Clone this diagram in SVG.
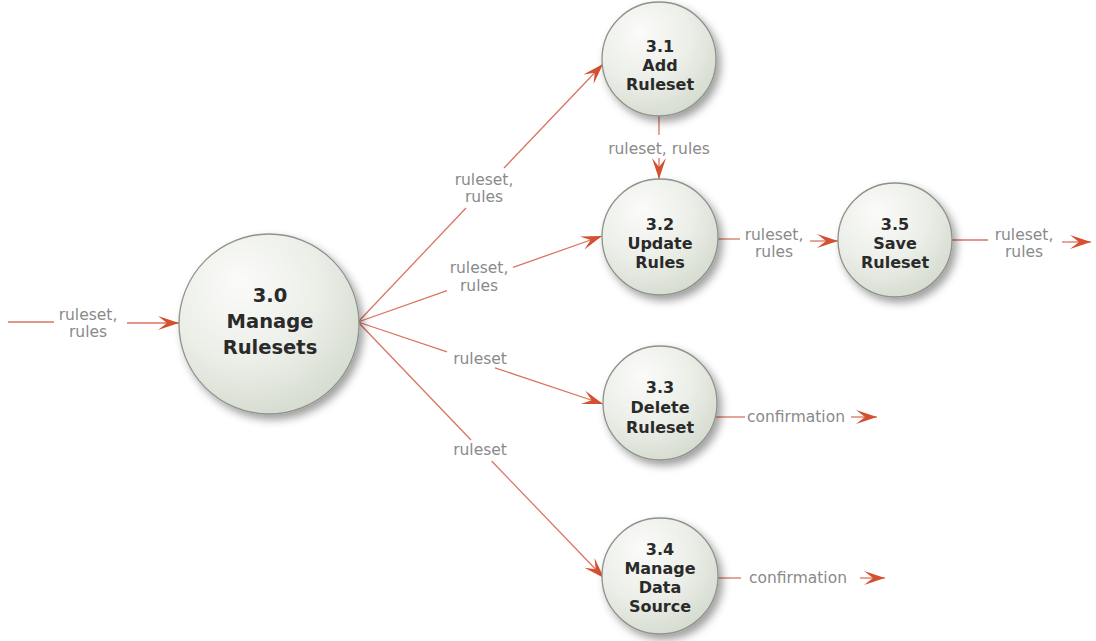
<svg xmlns="http://www.w3.org/2000/svg" width="1096" height="641" viewBox="0 0 1096 641">
  <defs>
    <radialGradient id="bubble" cx="38%" cy="32%" r="75%" fx="34%" fy="26%">
      <stop offset="0" stop-color="#fbfcfa"/>
      <stop offset="0.55" stop-color="#eceee8"/>
      <stop offset="1" stop-color="#d3dacd"/>
    </radialGradient>
    <filter id="shadow" x="-30%" y="-30%" width="170%" height="170%">
      <feDropShadow dx="4" dy="5" stdDeviation="4.5" flood-color="#000" flood-opacity="0.38"/>
    </filter>
    <marker id="arrow" viewBox="-23 -9 25 18" refX="0" refY="0" markerWidth="25" markerHeight="18" markerUnits="userSpaceOnUse" orient="auto">
      <path d="M0,0 L-21,-7 L-12,0 L-21,7 Z" fill="#d4502e"/>
    </marker>
    <style>
      .node circle { fill: url(#bubble); stroke: #8d928b; stroke-width: 1.3; filter: url(#shadow); }
      .node text { font-family: "DejaVu Sans", Verdana, sans-serif; font-weight: bold; fill: #2a2a2a; text-anchor: middle; }
      .big text { font-size: 19.5px; }
      .small text { font-size: 16px; }
      .flow { stroke: #d97562; stroke-width: 1.3; fill: none; }
      .head { marker-end: url(#arrow); }
      .lbl { font-family: "DejaVu Sans", Verdana, sans-serif; font-size: 15.5px; fill: #8a8a8a; text-anchor: middle; }
      .lbl.start { text-anchor: start; }
    </style>
  </defs>

  <rect width="1096" height="641" fill="#ffffff"/>

  <!-- data flows -->
  <g id="connectors">
    <!-- external input into 3.0 -->
    <path class="flow" d="M8,322 L54,322"/>
    <path class="flow head" d="M127,323 L179,323"/>
    <text class="lbl" x="88" y="320">ruleset,</text>
    <text class="lbl" x="88" y="337">rules</text>

    <!-- 3.0 -> 3.1 -->
    <path class="flow" d="M358,322 L466,208"/>
    <path class="flow head" d="M504,168 L603,64"/>
    <text class="lbl" x="484" y="185">ruleset,</text>
    <text class="lbl" x="484" y="202">rules</text>

    <!-- 3.0 -> 3.2 -->
    <path class="flow" d="M358,322 L447,290.6"/>
    <path class="flow head" d="M513,267.4 L602,236"/>
    <text class="lbl" x="479" y="273">ruleset,</text>
    <text class="lbl" x="479" y="291">rules</text>

    <!-- 3.0 -> 3.3 -->
    <path class="flow" d="M358,322 L447,351.8"/>
    <path class="flow head" d="M495,367.9 L603,404"/>
    <text class="lbl" x="480" y="364">ruleset</text>

    <!-- 3.0 -> 3.4 -->
    <path class="flow" d="M358,322 L471,440"/>
    <path class="flow head" d="M491.6,461 L604,578"/>
    <text class="lbl" x="480" y="455">ruleset</text>

    <!-- 3.1 -> 3.2 -->
    <path class="flow" d="M659,116 L659,135"/>
    <path class="flow head" d="M659,158 L659,179"/>
    <text class="lbl" x="659" y="154">ruleset, rules</text>

    <!-- 3.2 -> 3.5 -->
    <path class="flow" d="M718,239 L740,239"/>
    <path class="flow head" d="M810,241 L838,241"/>
    <text class="lbl" x="774" y="240">ruleset,</text>
    <text class="lbl" x="774" y="257">rules</text>

    <!-- 3.5 output -->
    <path class="flow" d="M952,240 L988,240"/>
    <path class="flow head" d="M1062,242 L1091,242"/>
    <text class="lbl" x="1024" y="240">ruleset,</text>
    <text class="lbl" x="1024" y="257">rules</text>

    <!-- 3.3 output -->
    <path class="flow" d="M716,417 L745,417"/>
    <path class="flow head" d="M851,417 L877,417"/>
    <text class="lbl start" x="747" y="422">confirmation</text>

    <!-- 3.4 output -->
    <path class="flow" d="M718,578 L741,578"/>
    <path class="flow head" d="M860,578 L885,578"/>
    <text class="lbl start" x="749" y="583">confirmation</text>
  </g>

  <!-- processes -->
  <g id="n30" class="node big">
    <circle cx="269" cy="324" r="90"/>
    <text x="270" y="302">3.0</text>
    <text x="270" y="328">Manage</text>
    <text x="270" y="354">Rulesets</text>
  </g>

  <g id="n31" class="node small">
    <circle cx="659" cy="59" r="57"/>
    <text x="660" y="52">3.1</text>
    <text x="660" y="71">Add</text>
    <text x="660" y="90">Ruleset</text>
  </g>

  <g id="n32" class="node small">
    <circle cx="660" cy="237" r="58"/>
    <text x="660" y="230">3.2</text>
    <text x="660" y="249">Update</text>
    <text x="660" y="268">Rules</text>
  </g>

  <g id="n35" class="node small">
    <circle cx="895" cy="240" r="57"/>
    <text x="895" y="230">3.5</text>
    <text x="895" y="249">Save</text>
    <text x="895" y="268">Ruleset</text>
  </g>

  <g id="n33" class="node small">
    <circle cx="660" cy="403" r="57"/>
    <text x="660" y="393">3.3</text>
    <text x="660" y="413">Delete</text>
    <text x="660" y="433">Ruleset</text>
  </g>

  <g id="n34" class="node small">
    <circle cx="660" cy="576" r="58"/>
    <text x="660" y="555">3.4</text>
    <text x="660" y="574">Manage</text>
    <text x="660" y="593">Data</text>
    <text x="660" y="612">Source</text>
  </g>
</svg>
